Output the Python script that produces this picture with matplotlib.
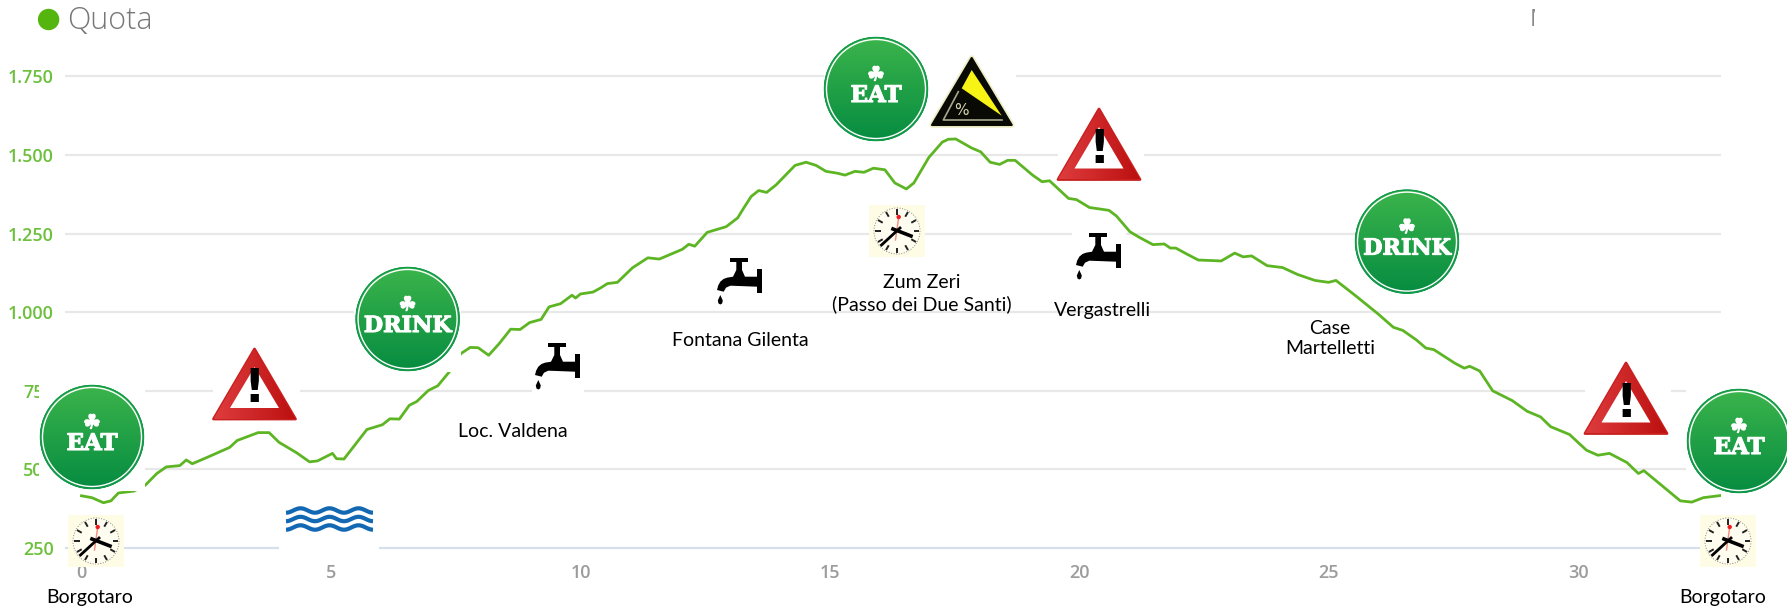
import numpy as np
import matplotlib
matplotlib.use("Agg")
import matplotlib.pyplot as plt
import matplotlib.patheffects as pe
from matplotlib.patches import Circle, Polygon, Rectangle

# elevation profile
km = [0, 0.21, 0.44, 0.59, 0.74, 1.05, 1.28, 1.51, 1.70, 1.97, 2.1, 2.22, 2.5, 2.97, 3.12, 3.54, 3.76, 3.96,
      4.31, 4.57, 4.73, 5.03, 5.11, 5.26, 5.72, 6.03, 6.18, 6.37, 6.57, 6.72, 6.95, 7.14, 7.37, 7.6, 7.79, 7.95,
      8.16, 8.37, 8.6, 8.79, 8.98, 9.21, 9.37, 9.6, 9.83, 9.9, 10.0, 10.25, 10.39, 10.54, 10.74, 11.04, 11.35,
      11.58, 12.04, 12.17, 12.29, 12.54, 12.92, 13.15, 13.27, 13.42, 13.57, 13.73, 13.92, 14.11, 14.3, 14.52,
      14.72, 14.92, 15.15, 15.3, 15.5, 15.68, 15.87, 16.1, 16.3, 16.53, 16.68, 16.98, 17.25, 17.37, 17.52,
      17.83, 18.02, 18.21, 18.4, 18.56, 18.71, 19.06, 19.25, 19.4, 19.78, 19.94, 20.2, 20.59, 20.74, 21.01,
      21.2, 21.47, 21.7, 21.82, 21.93, 22.15, 22.38, 22.84, 23.11, 23.28, 23.45, 23.76, 24.07, 24.37, 24.72,
      24.99, 25.14, 25.52, 25.98, 26.29, 26.48, 26.75, 26.94, 27.1, 27.52, 27.71, 27.82, 28.02, 28.28, 28.67,
      28.97, 29.24, 29.44, 29.82, 30.16, 30.39, 30.62, 30.97, 31.2, 31.31, 31.66, 32.04, 32.27, 32.5, 32.85]
quota = [416, 410, 394, 400, 425, 431, 450, 487, 508, 512, 530, 518, 537, 570, 592, 617, 617, 586,
         553, 524, 527, 551, 534, 533, 627, 642, 661, 660, 704, 716, 751, 766, 810, 868, 888, 887,
         863, 900, 946, 945, 967, 977, 1017, 1027, 1054, 1045, 1058, 1064, 1076, 1091, 1095, 1141, 1173,
         1169, 1200, 1216, 1210, 1254, 1272, 1300, 1331, 1368, 1387, 1381, 1405, 1436, 1467, 1477,
         1467, 1448, 1442, 1436, 1448, 1445, 1458, 1453, 1411, 1392, 1411, 1492, 1541, 1550, 1551,
         1523, 1510, 1477, 1470, 1483, 1483, 1436, 1415, 1418, 1362, 1358, 1333, 1324, 1306, 1256,
         1238, 1215, 1217, 1204, 1204, 1185, 1166, 1163, 1188, 1176, 1179, 1148, 1142, 1120, 1101,
         1095, 1101, 1054, 995, 952, 942, 912, 886, 881, 838, 822, 828, 813, 750, 719,
         685, 667, 636, 611, 561, 545, 551, 522, 487, 496, 450, 400, 396, 410, 417]
y_ticks = [250, 500, 750, 1000, 1250, 1500, 1750]
y_labels = ["250", "500", "750", "1.000", "1.250", "1.500", "1.750"]
x_ticks = [0, 5, 10, 15, 20, 25, 30]

W, H = 1787, 609
GREEN = "#5DB524"
TEXT_FONT = ["Lato", "DejaVu Sans"]

fig = plt.figure(figsize=(W / 100, H / 100), dpi=100, facecolor="white")

# pixel scale of the chart: 49.9 px per km, 78.6 px per 250 m
y_top, y_bot = 66, 558
ax = fig.add_axes([65 / W, 1 - y_bot / H, (1721 - 65) / W, (y_bot - y_top) / H])
ax.set_xlim((65 - 81.5) / 49.9, (1721 - 81.5) / 49.9)
ax.set_ylim(250 - (y_bot - 548) / 78.6 * 250, 1750 + (76.4 - y_top) / 78.6 * 250)
for s in ax.spines.values():
    s.set_visible(False)
ax.set_yticks(y_ticks, y_labels)
ax.set_xticks(x_ticks)
ax.tick_params(axis="y", length=0, pad=8, labelcolor="#6CC03C", labelsize=13)
ax.tick_params(axis="x", length=0, pad=4, labelcolor="#9C9C9C", labelsize=13)
for lab in ax.get_xticklabels() + ax.get_yticklabels():
    lab.set_family("Open Sans")
    lab.set_weight("semibold")
ax.grid(axis="y", color="#E8E8E8", lw=1.6)
ax.yaxis.get_gridlines()[0].set_color("#D8DFEC")
ax.set_axisbelow(True)
ax.plot(km, quota, color=GREEN, lw=2.0, solid_joinstyle="round")

# overlay in image pixels for the pasted-on icons
ov = fig.add_axes([0, 0, 1, 1], zorder=5)
ov.patch.set_visible(False)
ov.axis("off")


def white_box(x0, y0, x1, y1):
    ov.add_patch(Rectangle((x0, y0), x1 - x0, y1 - y0, fc="white", ec="none"))


def gradient(extent, c0, c1, clip, horizontal=False):
    c0 = np.array(matplotlib.colors.to_rgb(c0))
    c1 = np.array(matplotlib.colors.to_rgb(c1))
    t = np.linspace(0, 1, 64)[:, None]
    img = (c0 + (c1 - c0) * t)[:, None, :]
    if horizontal:
        img = img.transpose(1, 0, 2)
    im = ov.imshow(img, extent=extent, aspect="auto", zorder=2)
    im.set_clip_path(clip)


def badge(cx, cy, word, size):
    disc = Circle((cx, cy), 52, fc="#0E9347", ec="none", zorder=2)
    ov.add_patch(disc)
    gradient((cx - 52, cx + 52, cy + 52, cy - 52), "#3BB44B", "#068C41", disc)
    ov.add_patch(Circle((cx, cy), 51.5, fc="none", ec="#129B4B", lw=1.0, zorder=3))
    ov.add_patch(Circle((cx, cy), 49.5, fc="none", ec="white", lw=1.0, zorder=3))
    ov.text(cx, cy - 14, "\u2618", color="white", fontsize=14, ha="center", va="center",
            family="DejaVu Sans", weight="bold", zorder=4,
            path_effects=[pe.withStroke(linewidth=1.0, foreground="white")])
    ov.text(cx, cy + 7, word, color="white", fontsize=size, ha="center", va="center",
            family="DejaVu Serif", weight="bold", zorder=4,
            path_effects=[pe.withStroke(linewidth=0.8, foreground="white")])


def warning(tip_x, top, base, half):
    outer = Polygon([(tip_x, top), (tip_x - half, base), (tip_x + half, base)], closed=True, fc="#C9201F",
                    ec="#C9201F", lw=2.0, joinstyle="round", zorder=2)
    ov.add_patch(outer)
    gradient((tip_x - half, tip_x + half, base, top), "#DE3C3E", "#BC1010", outer, horizontal=True)
    ov.add_patch(Polygon([(tip_x, top + 18), (tip_x - 24.5, base - 11), (tip_x + 24.5, base - 11)],
                         closed=True, fc="white", ec="none", zorder=3))
    ov.text(tip_x, base - 29, "!", color="black", fontsize=34, ha="center", va="center",
            family="DejaVu Sans", weight="bold", zorder=4)


def clock(x0, y0):
    cx, cy = x0 + 28, y0 + 26
    ov.add_patch(Rectangle((x0, y0), 56, 52, fc="#FFFCE6", ec="none", zorder=2))
    ov.add_patch(Circle((cx, cy), 23, fc="#FFFDF0", ec="#8A8A80", lw=0.7, ls=":", zorder=2))
    for a in np.arange(0, 360, 30):
        r = np.radians(a)
        ov.plot([cx + 16.5 * np.sin(r), cx + 22 * np.sin(r)], [cy - 16.5 * np.cos(r), cy - 22 * np.cos(r)],
                color="#222222", lw=1.4, zorder=3, solid_capstyle="butt")
    ov.plot([cx + 1.7, cx - 1.5], [cy - 14, cy + 9], color="#F58A80", lw=1.0, zorder=3)
    ov.add_patch(Circle((cx + 1.7, cy - 14), 2.2, fc="#EE1C1C", ec="none", zorder=4))
    ov.plot([cx + 3, cx - 15.5], [cy - 3, cy + 14], color="black", lw=2.0, zorder=4)
    ov.plot([cx - 4, cx + 14], [cy - 2, cy + 5], color="black", lw=2.6, zorder=4)


def tap(x0, y0):
    pieces = [
        [(13.3, 0), (31, 0), (31, 4), (13.3, 4)],
        [(40, 11), (45, 11), (45, 35), (40, 35)],
        [(19.3, 4), (25, 4), (25, 12), (28, 18.7), (40, 18.7), (40, 28.7), (21.7, 28), (13.3, 27.7), (9, 29.7),
         (6.7, 33.7), (0, 32), (1.2, 27.5), (3.3, 23.7), (6.5, 21), (10, 19.7), (16, 18.7), (19.3, 12)],
        [(3.3, 37), (0.8, 42.5), (1.5, 45.5), (3.3, 46.5), (5.1, 45.5), (5.8, 42.5)],
    ]
    for p in pieces:
        ov.add_patch(Polygon([(x0 + a, y0 + b) for a, b in p], closed=True, fc="black", ec="none", zorder=3))


def waves(x0, x1, y_list):
    xs = np.linspace(x0, x1, 80)
    for yy in y_list:
        ov.plot(xs, yy + 2.2 * np.cos((xs - x0) / (x1 - x0) * 2 * np.pi * 3), color="#1268B3", lw=3.0, zorder=3,
                solid_capstyle="butt")


# areas wiped white around the icons
white_box(39, 384, 145, 491)
white_box(1686, 385, 1787, 493)
white_box(354, 265, 461, 372)
white_box(824, 46, 1016, 132)
white_box(213, 346, 300, 422)
white_box(1058, 106, 1144, 182)
white_box(1585, 360, 1671, 437)
white_box(532, 341, 584, 394)
white_box(1072, 232, 1126, 283)
white_box(279, 499, 379, 561)

badge(92, 437, "EAT", 16.5)
badge(876, 89, "EAT", 16.5)
badge(1739, 441, "EAT", 16.5)
badge(407.6, 319, "DRINK", 16)
badge(1407, 241.6, "DRINK", 16)

warning(254.5, 349, 419, 41)
warning(1099, 109, 179.5, 41)
warning(1626, 363, 433.5, 41)

clock(68, 515)
clock(869, 205)
clock(1700, 515)

tap(535, 343)
tap(717, 258)
tap(1076, 233)

waves(286, 373, [510.5, 519, 527.5])

# steep-climb sign
ov.add_patch(Polygon([(971.7, 58), (932, 125), (1011.7, 125)], closed=True, fc="#0A0A05", ec="#EEEFC8", lw=4,
                     joinstyle="round", zorder=2))
ov.add_patch(Polygon([(971.7, 58), (932, 125), (1011.7, 125)], closed=True, fc="#0A0A05", ec="#0A0A05", lw=1.5,
                     joinstyle="round", zorder=2))
ov.add_patch(Polygon([(971.7, 70), (961.7, 88.3), (1001.7, 115.7)], closed=True, fc="#F7F314", ec="none", zorder=3))
ov.plot([958.3, 943.3, 1002], [91.7, 120, 120], color="#A8A890", lw=1.2, zorder=3)
ov.text(961.7, 110.5, "%", color="#D5D5B5", fontsize=11, ha="center", va="center", family="DejaVu Sans", zorder=4)

# legend and place names
ov.add_patch(Circle((48.6, 19.5), 10.7, fc="#55B50F", ec="none", zorder=3))
ov.text(67, 21, "Quota", color="#777777", fontsize=22, ha="left", va="center", family="Open Sans",
        weight="light", zorder=3)
stub = ov.text(1530, 20, "M", color="#8A8A8A", fontsize=17, ha="left", va="center", family="Open Sans", zorder=3)
stub.set_clip_on(True)
stub.set_clip_path(Rectangle((1530, 8), 5, 22, transform=ov.transData))

places = [(90, 598, "Borgotaro"), (1723, 598, "Borgotaro"), (513, 431.8, "Loc. Valdena"),
          (740.4, 341, "Fontana Gilenta"), (921.5, 293.6, "Zum Zeri\n(Passo dei Due Santi)"),
          (1103, 310.6, "Vergastrelli"), (1330, 338.5, "Case\nMartelletti")]
for px, py, name in places:
    ov.text(px, py, name, color="black", fontsize=14, ha="center", va="center", family=TEXT_FONT,
            linespacing=1.25, zorder=4)

ov.set_xlim(0, W)
ov.set_ylim(H, 0)

fig.savefig("out.png", dpi=100)
